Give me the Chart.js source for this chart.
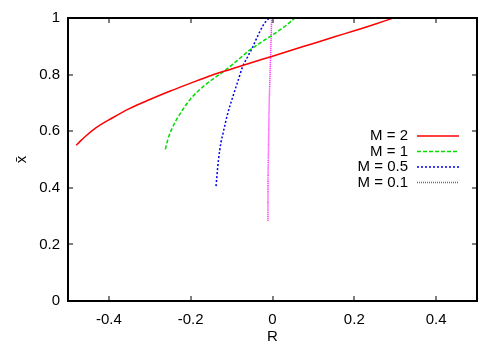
<!DOCTYPE html>
<html>
<head>
<meta charset="utf-8">
<script src="https://cdn.jsdelivr.net/npm/chart.js@4"></script>
<style>
  html, body { margin: 0; padding: 0; background: #fff; }
  #wrap { width: 500px; height: 350px; }
</style>
</head>
<body>
<div id="wrap"><canvas id="chart"></canvas></div>
<script>
const labels = ["M = 2", "M = 1", "M = 0.5", "M = 0.1"];
const colors = ["#ff0000", "#00dd00", "#0000ee", "#ff00ff"];
const dashes = [[], [4, 2], [2, 2], [1, 1]];

const m2R = [-0.48, -0.47, -0.455, -0.44, -0.42, -0.4, -0.35, -0.3, -0.25, -0.2, -0.15, -0.1, -0.05, 0, 0.05, 0.1, 0.15, 0.2, 0.25, 0.295];
const m2X = [0.55, 0.565, 0.585, 0.603, 0.623, 0.64, 0.68, 0.712, 0.742, 0.77, 0.797, 0.82, 0.843, 0.865, 0.888, 0.91, 0.933, 0.955, 0.978, 1.0];

const m1R = [-0.262, -0.256, -0.245, -0.235, -0.22, -0.2, -0.17, -0.14, -0.12, -0.09, -0.06, -0.03, 0, 0.03, 0.055];
const m1X = [0.536, 0.57, 0.612, 0.64, 0.675, 0.715, 0.757, 0.79, 0.81, 0.845, 0.882, 0.912, 0.94, 0.97, 1.0];

const m05R = [-0.138, -0.136, -0.132, -0.126, -0.121, -0.11, -0.097, -0.085, -0.073, -0.06, -0.048, -0.035, -0.02, -0.008];
const m05X = [0.406, 0.44, 0.5, 0.56, 0.592, 0.66, 0.722, 0.775, 0.828, 0.865, 0.899, 0.94, 0.981, 1.0];

const m01R = [-0.0112, -0.011, -0.0102, -0.0092, -0.008, -0.006, -0.004, -0.002];
const m01X = [0.284, 0.4, 0.5, 0.6, 0.7, 0.8, 0.9, 1.0];

const xTicks = [-0.4, -0.2, 0, 0.2, 0.4];
const yTicks = [0, 0.2, 0.4, 0.6, 0.8, 1];

const series = [[m2R, m2X], [m1R, m1X], [m05R, m05X], [m01R, m01X]];
const FONT = "'Liberation Sans', Arial, sans-serif";

// key inside the plot, then the closed frame with inward ticks
const keyPlugin = {
    id: "keyPlugin",
    afterDraw(chart) {
        const ctx = chart.ctx;
        const { left, top, right, bottom } = chart.chartArea;
        const xs = chart.scales.x, ys = chart.scales.y;
        ctx.save();
        ctx.font = "15px " + FONT;
        ctx.textAlign = "right";
        ctx.textBaseline = "middle";
        labels.forEach((lab, i) => {
            const y = 136 + i * 15.5;
            ctx.fillStyle = "#000";
            ctx.fillText(lab, 408, y);
            ctx.strokeStyle = colors[i];
            ctx.lineWidth = 1.5;
            ctx.setLineDash(dashes[i]);
            ctx.beginPath();
            ctx.moveTo(417, y); ctx.lineTo(459, y);
            ctx.stroke();
        });
        ctx.setLineDash([]);
        ctx.fillStyle = "#000000";
        ctx.fillRect(left - 1, top - 1, right - left + 2, 2);
        ctx.fillRect(right - 1, top - 1, 2, bottom - top + 2);
        ctx.fillRect(left - 1, bottom - 1, right - left + 2, 2);
        ctx.fillRect(left - 1, top - 1, 2, bottom - top + 2);
        xTicks.forEach(v => {
            const px = Math.round(xs.getPixelForValue(v));
            ctx.fillRect(px - 0.5, bottom - 5, 1, 5);
            ctx.fillRect(px - 0.5, top, 1, 5);
        });
        yTicks.forEach(v => {
            const py = Math.round(ys.getPixelForValue(v));
            ctx.fillRect(left, py - 0.5, 5, 1);
            ctx.fillRect(right - 5, py - 0.5, 5, 1);
        });
        ctx.restore();
    }
};

new Chart(document.getElementById("chart"), {
    type: "scatter",
    data: {
        datasets: series.map((s, i) => ({
            label: labels[i],
            data: s[0].map((r, j) => ({ x: r, y: s[1][j] })),
            showLine: true,
            borderColor: colors[i],
            borderWidth: 1.5,
            borderDash: dashes[i],
            pointRadius: 0,
            cubicInterpolationMode: "monotone",
            fill: false
        }))
    },
    options: {
        responsive: true,
        maintainAspectRatio: false,
        animation: false,
        layout: { padding: { top: 18, right: 23, left: 0, bottom: 0 } },
        plugins: { legend: { display: false }, tooltip: { enabled: false } },
        scales: {
            x: {
                type: "linear", min: -0.5, max: 0.5,
                afterBuildTicks: s => { s.ticks = xTicks.map(v => ({ value: v })); },
                afterFit: s => { s.height = 49; },
                grid: { display: false, drawTicks: false },
                border: { display: false },
                ticks: {
                    color: "#000", padding: 10, maxRotation: 0,
                    font: { family: FONT, size: 15 },
                    callback: v => String(+v.toFixed(1))
                },
                title: { display: true, text: "R", color: "#000", font: { family: FONT, size: 15 }, padding: { top: 6 } }
            },
            y: {
                type: "linear", min: 0, max: 1,
                afterBuildTicks: s => { s.ticks = yTicks.map(v => ({ value: v })); },
                afterFit: s => { s.width = 68; },
                grid: { display: false, drawTicks: false },
                border: { display: false },
                ticks: {
                    color: "#000", padding: 8,
                    font: { family: FONT, size: 15 },
                    callback: v => String(+v.toFixed(1))
                },
                title: { display: true, text: "x\u0304", color: "#000", font: { family: FONT, size: 15 }, padding: { top: 13, bottom: 0 } }
            }
        }
    },
    plugins: [keyPlugin]
});
</script>
</body>
</html>
